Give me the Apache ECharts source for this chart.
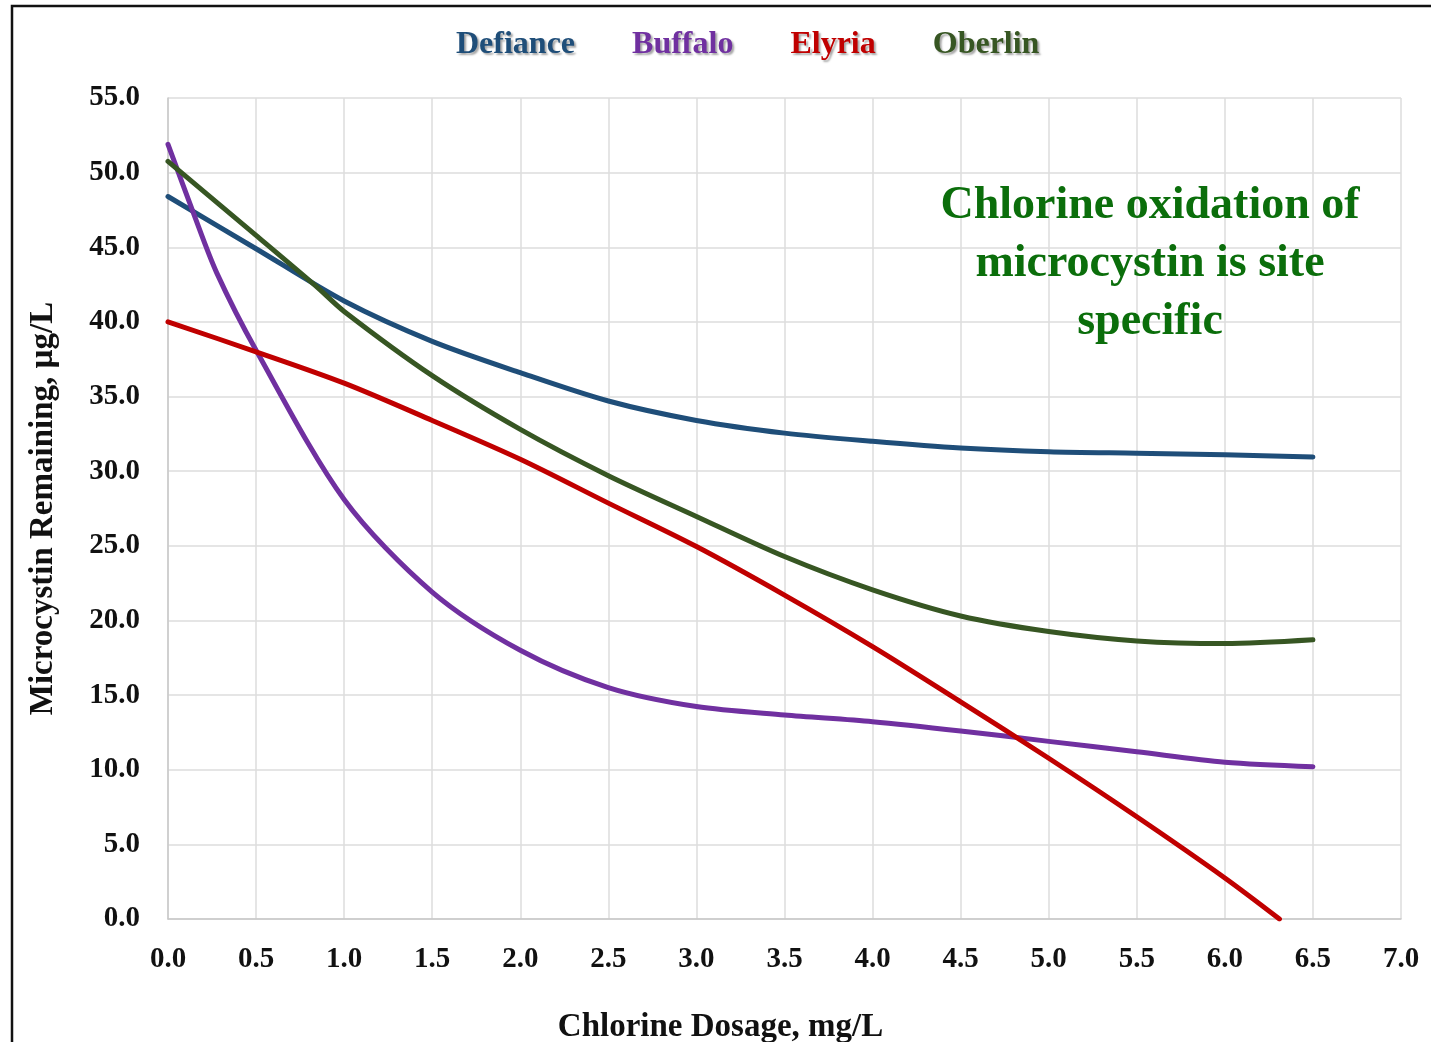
<!DOCTYPE html>
<html>
<head>
<meta charset="utf-8">
<title>Chlorine oxidation of microcystin</title>
<script src="https://cdn.jsdelivr.net/npm/echarts@6/dist/echarts.min.js"></script>
<style>
  html, body { margin: 0; padding: 0; background: #ffffff; overflow: hidden; }
  #chart { width: 1431px; height: 1042px; }
</style>
</head>
<body>
<div id="chart"></div>
<script>
// Chlorine dosage (mg/L) and microcystin remaining (µg/L) for each site
const defianceX = [0, 0.5, 1.0, 1.5, 2.0, 2.5, 3.0, 3.5, 4.0, 4.5, 5.0, 5.5, 6.0, 6.5];
const defianceY = [48.4, 44.9, 41.4, 38.7, 36.6, 34.7, 33.4, 32.55, 32.0, 31.55, 31.3, 31.2, 31.1, 30.95];

const buffaloX = [0, 0.144, 0.276, 0.5, 1.0, 1.5, 2.0, 2.5, 3.0, 3.5, 4.0, 4.5, 5.0, 5.5, 6.0, 6.5];
const buffaloY = [51.9, 47.3, 43.3, 38.1, 28.1, 21.9, 18.0, 15.5, 14.23, 13.67, 13.22, 12.6, 11.9, 11.2, 10.5, 10.2];

const elyriaX = [0, 0.5, 1.0, 1.5, 2.0, 2.5, 3.0, 3.5, 4.0, 4.5, 5.0, 5.5, 6.0, 6.31];
const elyriaY = [40.0, 38.0, 35.9, 33.4, 30.8, 27.86, 24.95, 21.7, 18.25, 14.55, 10.77, 6.85, 2.75, 0];

const oberlinX = [0, 0.5, 0.84, 1.0, 1.5, 2.0, 2.5, 3.0, 3.5, 4.0, 4.5, 5.0, 5.5, 6.0, 6.5];
const oberlinY = [50.75, 45.8, 42.4, 40.7, 36.4, 32.8, 29.7, 26.97, 24.28, 22.05, 20.3, 19.26, 18.63, 18.45, 18.7];

const siteNames = ['Defiance', 'Buffalo', 'Elyria', 'Oberlin'];
const siteColors = ['#1f4e79', '#7030a0', '#c00000', '#375623'];

const xTicks = { min: 0, max: 7, step: 0.5 };
const yTicks = { min: 0, max: 55, step: 5 };

const noteLines = ['Chlorine oxidation of', 'microcystin is site', 'specific'];

const serif = '"Liberation Serif", "DejaVu Serif", serif';

function pairs(xs, ys) {
  return xs.map((x, i) => [x, ys[i]]);
}

const seriesData = [
  pairs(defianceX, defianceY),
  pairs(buffaloX, buffaloY),
  pairs(elyriaX, elyriaY),
  pairs(oberlinX, oberlinY)
];

const chart = echarts.init(document.getElementById('chart'));

const option = {
  backgroundColor: '#ffffff',
  animation: false,
  grid: {
    left: 168, right: 30, top: 98, bottom: 123,
    containLabel: false,
    outerBoundsMode: 'none'
  },
  legend: {
    top: 24,
    left: 446,
    itemWidth: 0,
    itemHeight: 0,
    itemGap: 52,
    icon: 'rect',
    data: siteNames.map((n, i) => ({
      name: n,
      textStyle: { color: siteColors[i] }
    })),
    textStyle: {
      fontFamily: serif,
      fontWeight: 'bold',
      fontSize: 32,
      textShadowColor: 'rgba(0,0,0,0.35)',
      textShadowOffsetX: 2,
      textShadowOffsetY: 2,
      textShadowBlur: 2
    }
  },
  xAxis: {
    type: 'value',
    min: xTicks.min,
    max: xTicks.max,
    interval: xTicks.step,
    name: 'Chlorine Dosage, mg/L',
    nameLocation: 'middle',
    nameGap: 92,
    nameTextStyle: {
      fontFamily: serif, fontWeight: 'bold', fontSize: 33, color: '#111',
      padding: [0, 128, 0, 0]
    },
    axisLine: { show: true, lineStyle: { color: '#c8c8c8', width: 1.5 } },
    axisTick: { show: false },
    axisLabel: {
      margin: 26,
      fontFamily: serif,
      fontWeight: 'bold',
      fontSize: 29,
      color: '#111',
      formatter: v => v.toFixed(1)
    },
    splitLine: { show: true, lineStyle: { color: '#dcdcdc', width: 1.5 } }
  },
  yAxis: {
    type: 'value',
    min: yTicks.min,
    max: yTicks.max,
    interval: yTicks.step,
    name: 'Microcystin Remaining, µg/L',
    nameLocation: 'middle',
    nameGap: 108,
    nameRotate: 90,
    nameTextStyle: { fontFamily: serif, fontWeight: 'bold', fontSize: 33, color: '#111' },
    axisLine: { show: true, lineStyle: { color: '#c8c8c8', width: 1.5 } },
    axisTick: { show: false },
    axisLabel: {
      margin: 28,
      fontFamily: serif,
      fontWeight: 'bold',
      fontSize: 29,
      color: '#111',
      formatter: v => v.toFixed(1)
    },
    splitLine: { show: true, lineStyle: { color: '#dcdcdc', width: 1.5 } }
  },
  series: siteNames.map((n, i) => ({
    name: n,
    type: 'line',
    data: seriesData[i],
    smooth: 0.3,
    showSymbol: false,
    symbol: 'none',
    clip: true,
    color: siteColors[i],
    lineStyle: { color: siteColors[i], width: 5, cap: 'round', join: 'round' },
    z: 3
  })),
  graphic: [
    {
      type: 'polyline',
      silent: true,
      shape: { points: [[12, 1042], [12, 6], [1431, 6]] },
      style: { stroke: '#111', lineWidth: 2.5, fill: null }
    },
    {
      type: 'text',
      silent: true,
      x: 1150,
      y: 177,
      z: 10,
      style: {
        text: noteLines.join('\n'),
        align: 'center',
        verticalAlign: 'top',
        fontFamily: serif,
        fontWeight: 'bold',
        fontSize: 46,
        lineHeight: 58,
        fill: '#0b6e0b'
      }
    }
  ]
};

chart.setOption(option);
</script>
</body>
</html>
